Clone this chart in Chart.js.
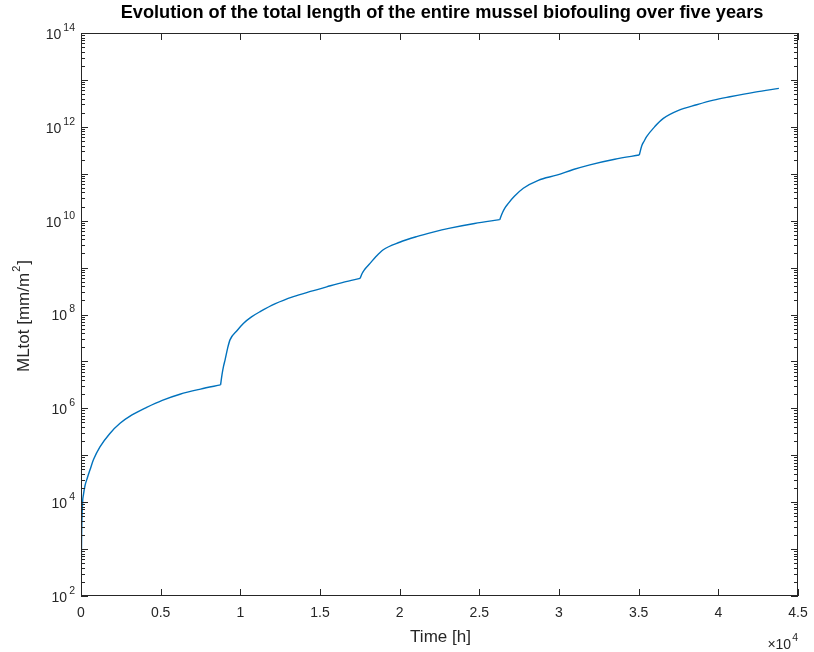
<!DOCTYPE html>
<html><head><meta charset="utf-8">
<script src="https://cdn.jsdelivr.net/npm/chart.js@4/dist/chart.umd.min.js"></script>
<style>html,body{margin:0;padding:0;background:#fff;}#wrap{width:814px;height:652px;}</style>
</head><body><div id="wrap"><canvas id="c" width="814" height="652"></canvas></div>
<script>
// ---- data ----
const timeHours = [
  0, 40, 100, 150, 250, 400, 565, 800, 1190, 1800, 2450, 3200, 4120, 5100, 6210, 7500, 8760,
  8850, 8950, 9040, 9200, 9350, 9800, 10190, 10700, 11240, 12200, 13330, 14400, 15420, 16500, 17520,
  17650, 17800, 18140, 18500, 18970, 20000, 21060, 22100, 23160, 24700, 26280,
  26450, 26600, 26820, 27200, 27760, 28700, 29850, 30900, 31940, 33500, 35040,
  35200, 35350, 35500, 36000, 36550, 37500, 38640, 39700, 40730, 42300, 43800
];
const mlTot = [
  1e2, 2.0e3, 1.0e4, 1.41e4, 2.24e4, 3.31e4, 4.9e4, 8.3e4, 1.51e5, 2.88e5, 4.79e5, 7.24e5, 1.05e6, 1.48e6, 2.0e6, 2.57e6, 3.16e6,
  5.25e6, 8.0e6, 1.07e7, 1.9e7, 2.88e7, 4.57e7, 6.46e7, 8.9e7, 1.15e8, 1.70e8, 2.40e8, 3.1e8, 3.89e8, 4.9e8, 5.89e8,
  7.59e8, 9.12e8, 1.23e9, 1.7e9, 2.40e9, 3.47e9, 4.57e9, 5.7e9, 6.92e9, 8.71e9, 1.05e10,
  1.48e10, 1.86e10, 2.34e10, 3.3e10, 4.90e10, 7.24e10, 9.33e10, 1.23e11, 1.55e11, 2.04e11, 2.51e11,
  3.98e11, 5.0e11, 6.17e11, 1.0e12, 1.51e12, 2.24e12, 2.95e12, 3.7e12, 4.37e12, 5.50e12, 6.61e12
];
const yearBoundaryHours = [8760, 17520, 26280, 35040];
const xTickValues = [0, 5000, 10000, 15000, 20000, 25000, 30000, 35000, 40000, 45000];
const xTickLabels = ['0', '0.5', '1', '1.5', '2', '2.5', '3', '3.5', '4', '4.5'];
const yLabelExponents = [2, 4, 6, 8, 10, 12, 14];
const yDecadeExponents = [2, 3, 4, 5, 6, 7, 8, 9, 10, 11, 12, 13, 14];
const titleText = 'Evolution of the total length of the entire mussel biofouling over five years';
const xAxisLabel = 'Time [h]';
const yAxisLabelParts = ['MLtot [mm/m', '2', ']'];
const xMultiplier = ['\u00d710', '4'];

const FONT = '"Liberation Sans", Arial, Helvetica, sans-serif';
const AX = '#262626';
const LINE = '#0072BD';

// split the series into one piece per year so the kinks stay sharp
const points = timeHours.map((t, i) => ({ x: t, y: mlTot[i] }));
const pieces = [];
let cur = [];
points.forEach(p => {
  cur.push(p);
  if (yearBoundaryHours.includes(p.x)) { pieces.push(cur); cur = [p]; }
});
if (cur.length > 1) pieces.push(cur);

function drawPow(ctx, base, exp, x, y, align, bSize, eSize, gap) {
  ctx.font = bSize + 'px ' + FONT;
  const wb = ctx.measureText(base).width;
  ctx.font = eSize + 'px ' + FONT;
  const we = ctx.measureText(exp).width;
  const total = wb + we + gap;
  let x0 = align === 'right' ? x - total : (align === 'center' ? x - total / 2 : x);
  ctx.textAlign = 'left';
  ctx.textBaseline = 'middle';
  ctx.font = bSize + 'px ' + FONT;
  ctx.fillText(base, x0, y + 2);
  ctx.font = eSize + 'px ' + FONT;
  ctx.fillText(exp, x0 + wb + gap, y - 5);
}

const decorPlugin = {
  id: 'decor',
  afterDraw(chart) {
    const ctx = chart.ctx, a = chart.chartArea;
    const xs = chart.scales.x, ys = chart.scales.y;
    ctx.save();
    ctx.strokeStyle = AX;
    ctx.fillStyle = AX;
    ctx.lineWidth = 1;
    ctx.strokeRect(Math.round(a.left) + 0.5, Math.round(a.top) + 0.5,
                   Math.round(a.right - a.left) - 1, Math.round(a.bottom - a.top) - 1);
    ctx.beginPath();
    xTickValues.forEach(v => {
      const px = Math.round(xs.getPixelForValue(v)) + 0.5;
      ctx.moveTo(px, a.bottom); ctx.lineTo(px, a.bottom - 7);
      ctx.moveTo(px, a.top); ctx.lineTo(px, a.top + 7);
    });
    yDecadeExponents.forEach(e => {
      const py = Math.round(ys.getPixelForValue(Math.pow(10, e))) + 0.5;
      ctx.moveTo(a.left, py); ctx.lineTo(a.left + 7, py);
      ctx.moveTo(a.right, py); ctx.lineTo(a.right - 7, py);
      if (e < 14) {
        for (let m = 2; m <= 9; m++) {
          const pm = Math.round(ys.getPixelForValue(m * Math.pow(10, e))) + 0.5;
          ctx.moveTo(a.left, pm); ctx.lineTo(a.left + 4, pm);
          ctx.moveTo(a.right, pm); ctx.lineTo(a.right - 4, pm);
        }
      }
    });
    ctx.stroke();

    ctx.font = '14px ' + FONT;
    ctx.textAlign = 'center';
    ctx.textBaseline = 'middle';
    xTickValues.forEach((v, i) => {
      ctx.fillText(xTickLabels[i], xs.getPixelForValue(v), a.bottom + 17);
    });
    yLabelExponents.forEach(e => {
      drawPow(ctx, '10', String(e), a.left - 6, ys.getPixelForValue(Math.pow(10, e)), 'right', 14, 10.5, 2);
    });
    drawPow(ctx, xMultiplier[0], xMultiplier[1], a.right, a.bottom + 47, 'right', 14, 10.5, 1);

    ctx.font = '17px ' + FONT;
    ctx.textAlign = 'center';
    ctx.textBaseline = 'middle';
    ctx.fillText(xAxisLabel, (a.left + a.right) / 2 + 1, a.bottom + 41);

    ctx.save();
    ctx.translate(24, 316);
    ctx.rotate(-Math.PI / 2);
    ctx.font = '17px ' + FONT;
    const w1 = ctx.measureText(yAxisLabelParts[0]).width;
    const w3 = ctx.measureText(yAxisLabelParts[2]).width;
    ctx.font = '11px ' + FONT;
    const w2 = ctx.measureText(yAxisLabelParts[1]).width;
    let x0 = -(w1 + w2 + w3 + 2) / 2;
    ctx.textAlign = 'left';
    ctx.textBaseline = 'middle';
    ctx.font = '17px ' + FONT;
    ctx.fillText(yAxisLabelParts[0], x0, 0);
    ctx.font = '11px ' + FONT;
    ctx.fillText(yAxisLabelParts[1], x0 + w1 + 1, -7);
    ctx.font = '17px ' + FONT;
    ctx.fillText(yAxisLabelParts[2], x0 + w1 + w2 + 2, 0);
    ctx.restore();

    ctx.fillStyle = '#000';
    let ts = 15;
    ctx.font = 'bold ' + ts + 'px ' + FONT;
    const tw = ctx.measureText(titleText).width;
    ts = ts * 643 / tw;
    ctx.font = 'bold ' + ts.toFixed(2) + 'px ' + FONT;
    ctx.textAlign = 'center';
    ctx.textBaseline = 'alphabetic';
    ctx.fillText(titleText, 442, 18);
    ctx.restore();
  }
};

new Chart(document.getElementById('c'), {
  type: 'line',
  data: {
    datasets: pieces.map(seg => ({
      data: seg,
      borderColor: LINE,
      borderWidth: 1.4,
      pointRadius: 0,
      fill: false,
      cubicInterpolationMode: 'monotone'
    }))
  },
  options: {
    responsive: false,
    animation: false,
    devicePixelRatio: 1,
    layout: { padding: { left: 81, top: 33, right: 16, bottom: 56 } },
    plugins: { legend: { display: false }, title: { display: false }, tooltip: { enabled: false } },
    scales: {
      x: {
        type: 'linear', min: 0, max: 45000,
        ticks: { display: false }, grid: { display: false }, border: { display: false },
        afterFit: s => { s.height = 0; }
      },
      y: {
        type: 'logarithmic', min: 1e2, max: 1e14,
        ticks: { display: false }, grid: { display: false }, border: { display: false },
        afterFit: s => { s.width = 0; }
      }
    }
  },
  plugins: [decorPlugin]
});
</script>
</body></html>
